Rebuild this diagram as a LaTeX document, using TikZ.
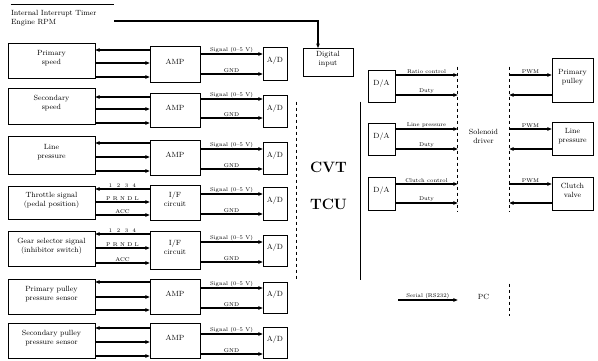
\documentclass[tikz,border=0pt]{standalone}
\usetikzlibrary{arrows.meta,fit}
\begin{document}
\tikzset{
 bx/.style={draw, line width=0.6pt, inner sep=0pt, align=center, font=\fontsize{7.5}{9}\selectfont},
 nb/.style={bx, draw=none},
 arr/.style={line width=1.1pt, -{Stealth[length=4.5pt,width=3.8pt]}},
 rarr/.style={line width=1.1pt, {Stealth[length=4.5pt,width=3.8pt]}-},
 lab/.style={font=\fontsize{5.5}{6}\selectfont, inner sep=0.8pt, above},
}
\begin{tikzpicture}[x=1pt,y=-1pt]
\fill[white] (0,0) rectangle (598,360);
\useasboundingbox (0,0) rectangle (598,360);

% top: timer and digital input
\node[nb, fit={(10,5) (115,37)}, text width=103pt, align=left] (timer) {Internal Interrupt Timer\\Engine RPM};
\draw[line width=0.8pt] (timer.north west) -- (timer.north east);
\node[bx, fit={(303,48) (353,76)}] (dig) {Digital\\input};
\coordinate (digin) at (318,48);
\draw[arr] (timer.east) -| (digin);

% left input chains
\foreach \n/\stxt/\st/\sb/\mtxt/\mt/\mb/\ya/\yb/\yc/\ra/\rb/\at/\ab/\la/\lb/\lc in {
 1/{Primary\\speed}/43/78/AMP/46/82/50/63/77/54/74/47/80/{}/{}/{},
 2/{Secondary\\speed}/88/124/AMP/93/127/97/109/123/99/118/95/127/{}/{}/{},
 3/{Line\\pressure}/136/174/AMP/140/175/143/157/171/149/169/142/174/{}/{}/{},
 4/{Throttle signal\\(pedal position)}/186/219/{I/F\\circuit}/185/220/189/202/215/194/214/187/220/{1\ \ 2\ \ 3\ \ 4}/{P R N D L}/{ACC},
 5/{Gear selector signal\\(inhibitor switch)}/231/266/{I/F\\circuit}/231/269/234/248/263/242/262/235/266/{1\ \ 2\ \ 3\ \ 4}/{P R N D L}/{ACC},
 6/{Primary pulley\\pressure sensor}/279/314/AMP/279/314/282/297/310/288/308/282/313/{}/{}/{},
 7/{Secondary pulley\\pressure sensor}/323/358/AMP/323/358/328/342/356/334/354/327/358/{}/{}/{}}{
 \node[bx, fit={(8,\st) (95,\sb)}] (s\n) {\stxt};
 \node[bx, fit={(150,\mt) (200,\mb)}] (m\n) {\mtxt};
 \node[bx, fit={(263,\at) (287,\ab)}] (ad\n) {A/D};
 \draw[rarr] (s\n.east |- 0,\ya) -- node[lab]{\la} (m\n.west |- 0,\ya);
 \draw[arr] (s\n.east |- 0,\yb) -- node[lab]{\lb} (m\n.west |- 0,\yb);
 \draw[arr] (s\n.east |- 0,\yc) -- node[lab]{\lc} (m\n.west |- 0,\yc);
 \draw[arr] (m\n.east |- 0,\ra) -- node[lab]{Signal (0--5 V)} (ad\n.west |- 0,\ra);
 \draw[arr] (m\n.east |- 0,\rb) -- node[lab]{GND} (ad\n.west |- 0,\rb);
}

% TCU
\node[nb, fit={(297,102) (360,280)}, font=\fontsize{15}{37}\selectfont\bfseries] (tcu) {CVT\\TCU};
\draw[dashed, line width=0.6pt] (tcu.north west) -- (tcu.south west);
\draw[line width=0.8pt] (tcu.north east) -- (tcu.south east);

% driver
\node[nb, fit={(458,67) (509,212)}] (drv) {Solenoid\\driver};
\draw[dashed, line width=0.6pt] (drv.north west) -- (drv.south west);
\draw[dashed, line width=0.6pt] (drv.north east) -- (drv.south east);

% right output chains
\foreach \n/\dt/\db/\ya/\yb/\vt/\vb/\la/\lb/\vtxt in {
 1/70/102/75/95/58/102/{Ratio control}/{Duty}/{Primary\\pulley},
 2/123/155/129/149/122/155/{Line pressure}/{Duty}/{Line\\pressure},
 3/177/210/184/203/177/210/{Clutch control}/{Duty}/{Clutch\\valve}}{
 \node[bx, fit={(368,\dt) (395,\db)}] (da\n) {D/A};
 \draw[arr] (da\n.east |- 0,\ya) -- node[lab]{\la} (drv.west |- 0,\ya);
 \draw[arr] (da\n.east |- 0,\yb) -- node[lab]{\lb} (drv.west |- 0,\yb);
 \node[bx, fit={(552,\vt) (593,\vb)}] (v\n) {\vtxt};
 \draw[arr] (drv.east |- 0,\ya) -- node[lab]{PWM} (v\n.west |- 0,\ya);
 \draw[rarr] (drv.east |- 0,\yb) -- (v\n.west |- 0,\yb);
}

% serial
\node[nb, fit={(458,284) (509,316)}] (pc) {PC};
\draw[dashed, line width=0.6pt] (pc.north east) -- (pc.south east);
\coordinate (ser) at (398,300);
\draw[arr] (ser) -- node[lab]{Serial (RS232)} (pc.west);
\end{tikzpicture}
\end{document}
